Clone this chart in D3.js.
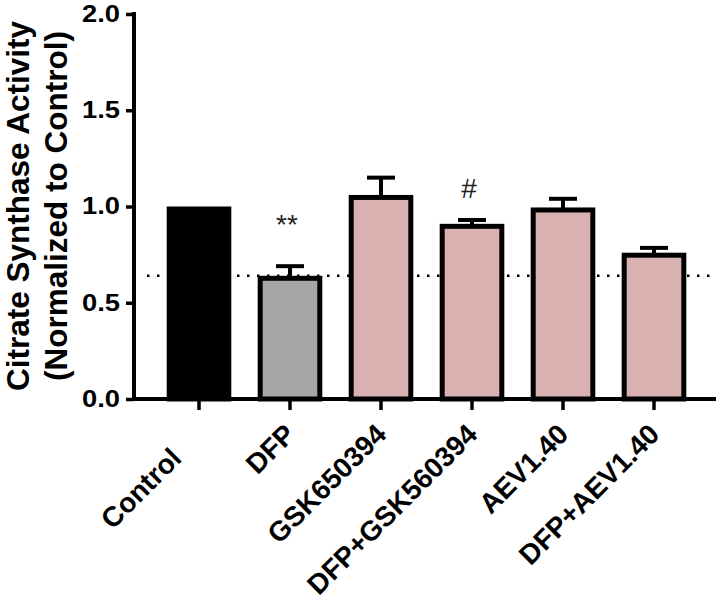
<!DOCTYPE html>
<html>
<head>
<meta charset="utf-8">
<script src="https://cdn.jsdelivr.net/npm/d3@7"></script>
<style>
  body { margin: 0; background: #fff; }
  text { font-family: "Liberation Sans", Arial, sans-serif; }
</style>
</head>
<body>
<svg id="chart" width="720" height="606"></svg>
<script>
const categories = ['Control', 'DFP', 'GSK650394', 'DFP+GSK560394', 'AEV1.40', 'DFP+AEV1.40'];
const means = [1.0, 0.64, 1.06, 0.91, 0.995, 0.76];
const sems = [0, 0.05, 0.09, 0.02, 0.045, 0.025];
const yTicks = [0.0, 0.5, 1.0, 1.5, 2.0];
const refLine = 0.64;
const marks = [
  { group: 'DFP', text: '**' },
  { group: 'DFP+GSK560394', text: '#' }
];

const fills = ['#000000', '#a6a6a9', '#d9b1b1', '#d9b1b1', '#d9b1b1', '#d9b1b1'];
const strokeW = 5;

const svg = d3.select('#chart');

const x = d3.scaleBand().domain(categories).range([153.5, 699.5]).paddingInner(0.29).paddingOuter(0.145);
const y = d3.scaleLinear().domain([0, 2]).range([399, 14]);

// dotted reference line (behind bars)
svg.append('line')
  .attr('x1', 147).attr('x2', 716)
  .attr('y1', y(refLine)).attr('y2', y(refLine))
  .attr('stroke', '#000')
  .attr('stroke-width', 2.5)
  .attr('stroke-dasharray', '2.5,7.5');

const data = categories.map((c, i) => ({ name: c, mean: means[i], sem: sems[i], fill: fills[i] }));
const cx = (d) => x(d.name) + x.bandwidth() / 2;

// error bars (drawn first, bar covers the lower part)
const err = svg.append('g').selectAll('g').data(data.filter((d) => d.sem > 0)).enter().append('g');
err.append('line')
  .attr('x1', cx).attr('x2', cx)
  .attr('y1', (d) => y(d.mean) + 3)
  .attr('y2', (d) => y(d.mean + d.sem))
  .attr('stroke', '#000').attr('stroke-width', 4);
err.append('line')
  .attr('x1', (d) => cx(d) - 14)
  .attr('x2', (d) => cx(d) + 14)
  .attr('y1', (d) => y(d.mean + d.sem))
  .attr('y2', (d) => y(d.mean + d.sem))
  .attr('stroke', '#000').attr('stroke-width', 4);

// bars, outer edge of border sits on the value
svg.append('g').selectAll('rect').data(data).enter().append('rect')
  .attr('x', (d) => x(d.name) + strokeW / 2)
  .attr('width', x.bandwidth() - strokeW)
  .attr('y', (d) => y(d.mean) + strokeW / 2)
  .attr('height', (d) => y(0) - y(d.mean) - strokeW / 2)
  .attr('fill', (d) => d.fill)
  .attr('stroke', '#000')
  .attr('stroke-width', strokeW);

// y axis
const yAxis = svg.append('g')
  .attr('transform', 'translate(134,0)')
  .call(d3.axisLeft(y).tickValues(yTicks).tickFormat(d3.format('.1f')).tickSize(8).tickPadding(6));
yAxis.select('.domain').attr('stroke-width', 4).attr('d', `M0,${y(2) - 2}V${y(0) + 2}`);
yAxis.selectAll('.tick line').attr('stroke-width', 3.5);
yAxis.selectAll('.tick text')
  .attr('font-size', 23)
  .attr('font-weight', 'bold')
  .attr('fill', '#000')
  .attr('textLength', 38)
  .attr('lengthAdjust', 'spacingAndGlyphs');

// x axis, labels drawn separately so they can be rotated
const xAxis = svg.append('g')
  .attr('transform', `translate(0,${y(0)})`)
  .call(d3.axisBottom(x).tickSize(11).tickSizeOuter(0).tickFormat(''));
xAxis.select('.domain').attr('stroke-width', 4).attr('d', 'M132,0H716');
xAxis.selectAll('.tick line').attr('stroke-width', 3.5);

svg.append('g').selectAll('g').data(categories).enter().append('g')
  // the Control label sits a bit further down-left in the original
  .attr('transform', (d, i) => {
    const px = x(d) + x.bandwidth() / 2 + (i === 0 ? -16 : 7);
    const py = y(0) + (i === 0 ? 61 : 37);
    return `translate(${px},${py}) rotate(-45)`;
  })
  .append('text')
  .attr('text-anchor', 'end')
  .attr('font-size', 28)
  .attr('font-weight', 'bold')
  .attr('fill', '#000')
  .text((d) => d);

// significance marks
const markOffsets = { '**': 32, '#': 22 };
marks.forEach((m) => {
  const d = data.find((e) => e.name === m.group);
  svg.append('text')
    .attr('x', cx(d) - 3)
    .attr('y', y(d.mean + d.sem) - markOffsets[m.text])
    .attr('text-anchor', 'middle')
    .attr('font-size', 28)
    .attr('fill', '#222')
    .text(m.text);
});

// y title
const title = svg.append('text')
  .attr('transform', 'translate(0,206) rotate(-90)')
  .attr('text-anchor', 'middle')
  .attr('font-size', 31.5)
  .attr('font-weight', 'bold')
  .attr('fill', '#000');
title.append('tspan').attr('x', 0).attr('y', 29).text('Citrate Synthase Activity');
title.append('tspan').attr('x', 0).attr('y', 67).text('(Normalized to Control)');
</script>
</body>
</html>
